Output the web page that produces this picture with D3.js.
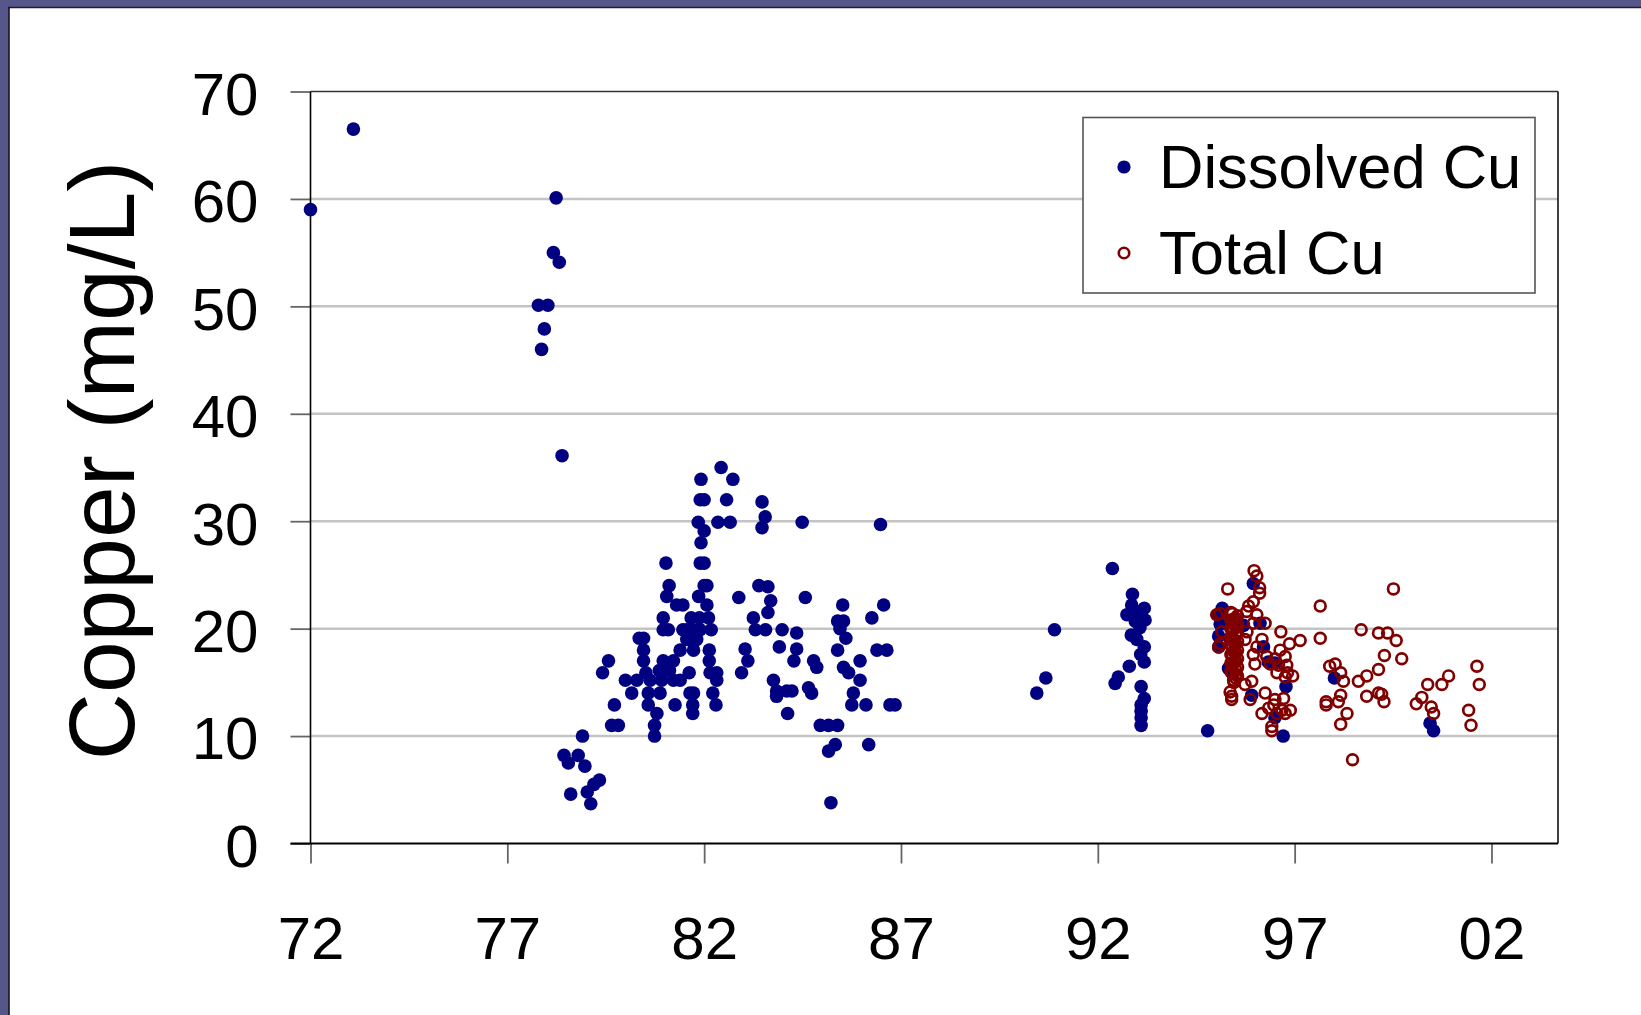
<!DOCTYPE html>
<html><head><meta charset="utf-8">
<script src="https://cdn.jsdelivr.net/npm/d3@7"></script>
<style>html,body{margin:0;padding:0;background:#fff;overflow:hidden}svg{display:block}text{font-family:"Liberation Sans",Arial,Helvetica,sans-serif;fill:#000}</style>
</head><body>
<svg id="c" width="1641" height="1015"></svg>
<script>
// ---- data ----
const yTicks = [0, 10, 20, 30, 40, 50, 60, 70];
const xTicks = [72, 77, 82, 87, 92, 97, 102];
const xTickLabels = ["72", "77", "82", "87", "92", "97", "02"];
const seriesNames = ["Dissolved Cu", "Total Cu"];
const yTitle = "Copper (mg/L)";

const dissolvedYear = [73.09,72.0,78.24,78.17,78.32,77.79,78.03,77.94,77.87,78.39,
82.43,81.92,82.73,81.9,82.0,82.57,83.47,81.85,82.0,82.35,82.66,83.55,83.47,84.49,86.48,81.92,81.9,82.0,81.03,82.0,82.07,81.11,81.05,81.86,82.88,83.39,83.62,84.57,83.69,83.62,82.07,81.46,81.3,85.52,86.56,86.26,80.96,85.39,85.54,83.25,81.67,81.88,82.11,80.96,81.09,81.46,81.56,81.73,81.9,82.18,83.3,83.56,83.98,84.35,85.45,85.6,80.35,80.46,81.56,81.81,80.46,81.39,81.73,82.13,83.04,83.91,84.35,85.39,86.39,86.64,79.57,80.46,80.96,81.22,82.13,83.11,84.28,84.78,85.96,79.42,80.52,80.86,81.12,81.62,82.15,82.32,82.95,84.86,85.54,85.67,80.0,80.29,80.63,80.92,81.22,81.39,82.32,83.76,85.96,80.16,80.58,80.88,81.64,81.73,82.22,83.84,84.1,84.23,83.84,84.65,84.73,85.79,79.72,80.58,81.26,81.71,82.3,85.75,86.11,86.72,86.85,84.12,80.8,81.71,79.65,79.82,80.74,84.95,85.16,85.39,80.74,78.91,85.33,85.16,86.18,78.44,78.8,78.55,78.97,79.34,79.2,79.03,78.61,79.12,85.22,
92.37,90.9,90.68,90.45,92.88,93.18,92.86,92.74,93.03,93.2,92.95,93.07,92.85,92.99,93.18,93.09,93.18,92.8,92.52,92.44,93.1,93.18,93.1,93.1,93.1,93.1,94.79,95.16,95.07,95.11,95.07,95.07,95.95,96.21,95.32,96.78,95.91,96.5,96.71,98.01,100.44,100.53,95.7,96.12,96.33,96.5,95.36];
const dissolvedCu = [66.5,59.0,60.1,55.0,54.1,50.1,50.1,47.9,46.0,36.1,
35.0,33.9,33.9,32.0,32.0,32.0,31.8,29.9,29.1,29.9,29.9,30.4,29.4,29.9,29.7,28.0,26.1,26.1,26.1,24.0,24.0,24.0,23.0,23.0,22.9,24.0,23.9,22.9,22.6,21.5,22.2,22.2,22.2,22.2,22.2,21.0,21.0,20.7,20.7,21.0,21.0,21.0,21.0,19.9,19.9,19.9,19.9,19.9,19.9,19.9,19.9,19.9,19.9,19.6,20.0,19.1,19.1,19.1,19.0,19.0,18.0,18.0,18.0,18.0,18.1,18.3,18.1,18.0,18.0,18.0,17.0,17.0,17.0,17.0,17.0,17.0,17.0,17.0,17.0,15.9,15.9,16.1,16.1,15.9,15.9,15.9,15.9,16.4,16.4,15.9,15.2,15.2,15.2,15.2,15.2,15.2,15.2,15.2,15.2,14.0,14.0,14.0,14.0,14.0,14.0,14.2,14.2,14.2,13.7,14.5,14.0,14.0,12.9,12.9,12.9,12.9,12.9,12.9,12.9,12.9,12.9,12.1,12.1,12.1,11.0,11.0,11.0,11.0,11.0,11.0,10.0,10.0,9.2,8.6,9.2,8.2,8.2,7.5,7.2,5.9,5.5,4.8,4.6,3.7,3.8,
25.6,19.9,15.4,14.0,23.2,21.9,22.2,21.3,21.3,20.8,20.7,20.1,19.4,19.0,18.3,17.6,16.9,16.5,15.5,14.9,14.6,13.5,12.9,12.3,11.7,11.0,10.5,21.9,21.3,20.4,19.3,18.3,24.2,18.3,16.3,14.6,13.8,11.7,10.0,15.4,11.2,10.5,20.3,20.5,16.9,16.8,16.2];

const totalYear = [95.97,96.04,95.3,96.11,96.11,95.95,95.83,95.78,96.04,95.11,95.02,
95.38,95.55,95.38,95.55,95.38,95.55,95.38,95.55,95.38,95.55,95.38,95.55,95.38,95.55,95.38,95.55,95.45,95.45,95.45,
95.42,95.5,95.42,95.5,95.42,95.5,95.42,95.5,95.42,95.5,95.42,95.5,95.42,95.5,95.42,95.5,95.46,95.46,95.46,95.46,
95.15,95.07,95.79,95.74,95.95,96.25,96.17,96.04,96.65,96.87,97.14,96.63,95.95,96.29,96.5,96.76,95.99,96.38,96.59,96.8,96.55,96.82,96.95,96.76,95.91,95.74,95.53,95.36,95.4,95.4,95.87,96.25,96.5,96.72,96.17,96.34,96.47,96.68,96.89,96.55,96.76,96.42,96.42,
97.65,97.65,98.69,99.13,99.36,99.58,99.51,99.28,99.72,97.89,98.03,98.17,98.24,98.62,98.83,99.13,98.17,98.11,97.8,97.8,98.83,99.13,99.21,99.27,98.33,98.17,98.47,100.38,100.74,100.91,100.23,100.09,100.47,100.53,101.63,101.69,101.42,101.48,95.11];
const totalCu = [25.4,24.9,23.7,23.8,23.3,22.5,22.1,21.6,21.3,21.4,21.3,
21.5,21.2,20.8,20.4,20.0,19.6,19.2,18.8,18.4,18.0,17.6,17.2,16.8,16.4,16.0,15.6,15.2,17.9,19.9,
21.4,21.0,20.6,20.2,19.8,19.4,19.0,18.6,18.2,17.8,17.4,17.0,16.6,16.2,15.8,15.4,20.9,18.9,16.9,15.0,
19.7,18.3,19.7,19.0,20.5,20.5,19.0,18.3,19.7,18.6,18.9,18.0,17.6,17.4,17.2,17.4,16.7,16.7,16.6,16.6,15.9,15.9,15.6,15.5,15.1,14.8,15.7,14.1,13.7,13.4,13.4,14.0,13.4,13.5,12.1,12.6,12.9,12.4,12.4,12.1,12.1,10.9,10.5,
22.1,19.1,19.9,19.6,19.6,18.9,23.7,17.5,17.2,16.5,16.7,15.9,15.1,15.1,15.6,16.2,13.8,13.2,13.2,12.9,13.7,14.0,13.9,13.2,12.1,11.1,7.8,14.8,14.8,15.6,13.6,13.0,12.7,12.1,16.5,14.8,12.4,11.0,18.6];

// ---- layout ----
const W = 1641, H = 1015;
const plot = {left: 310.5, right: 1558, top: 91.5, bottom: 843.5};
const svg = d3.select("#c");

// frame
svg.append("rect").attr("x",0).attr("y",0).attr("width",W).attr("height",H).attr("fill","#56568a");
svg.append("rect").attr("x",9).attr("y",8).attr("width",W-9).attr("height",H-8).attr("fill","#ffffff");
svg.append("line").attr("x1",8).attr("x2",W).attr("y1",7.5).attr("y2",7.5).attr("stroke","#1c1c2a").attr("stroke-width",1.5);
svg.append("line").attr("x1",9).attr("x2",9).attr("y1",7).attr("y2",H).attr("stroke","#151520").attr("stroke-width",1.6);

const x = d3.scaleLinear().domain([72, 103.69]).range([plot.left, plot.right]);
const y = d3.scaleLinear().domain([0, 70]).range([plot.bottom, plot.top]);

// gridlines
svg.append("g").selectAll("line").data(yTicks.filter(v => v > 0 && v < 70)).join("line")
  .attr("x1", plot.left).attr("x2", plot.right)
  .attr("y1", d => y(d)).attr("y2", d => y(d))
  .attr("stroke", "#c4c4c4").attr("stroke-width", 2.5);

// plot frame (top & right)
svg.append("line").attr("x1",plot.left).attr("x2",plot.right).attr("y1",y(70)).attr("y2",y(70)).attr("stroke","#333").attr("stroke-width",1.5);
svg.append("line").attr("x1",plot.right).attr("x2",plot.right).attr("y1",plot.top).attr("y2",plot.bottom).attr("stroke","#111").attr("stroke-width",1.6);

// axes
const yAxis = d3.axisLeft(y).tickValues(yTicks).tickSize(20).tickPadding(32).tickFormat(d3.format("d"));
const gy = svg.append("g").attr("transform", `translate(${plot.left},0)`).call(yAxis);
gy.select(".domain").remove();
gy.selectAll(".tick line").attr("stroke","#666").attr("stroke-width",1.8);
gy.selectAll(".tick text").attr("font-size",60).attr("fill","#000").attr("dy","0.38em")
  .attr("font-family",'"Liberation Sans",Arial,sans-serif');

const xAxis = d3.axisBottom(x).tickValues(xTicks).tickSize(20).tickPadding(53)
  .tickFormat((d, i) => xTickLabels[i]);
const gx = svg.append("g").attr("transform", `translate(0,${plot.bottom})`).call(xAxis);
gx.select(".domain").remove();
gx.selectAll(".tick line").attr("stroke","#666").attr("stroke-width",1.8);
gx.selectAll(".tick text").attr("font-size",60).attr("fill","#000")
  .attr("font-family",'"Liberation Sans",Arial,sans-serif');

// axis lines
svg.append("line").attr("x1",plot.left).attr("x2",plot.left).attr("y1",plot.top).attr("y2",plot.bottom).attr("stroke","#000").attr("stroke-width",1.6);
svg.append("line").attr("x1",plot.left-20).attr("x2",plot.right).attr("y1",plot.bottom).attr("y2",plot.bottom).attr("stroke","#000").attr("stroke-width",2);

// y title
svg.append("text").attr("transform", `translate(134,${(plot.top+plot.bottom)/2 - 7}) rotate(-90)`)
  .attr("text-anchor","middle").attr("font-size",93).text(yTitle);

// points
const dis = dissolvedYear.map((d,i) => ({yr:d, v:dissolvedCu[i]}));
const tot = totalYear.map((d,i) => ({yr:d, v:totalCu[i]}));
svg.append("g").selectAll("circle").data(dis).join("circle")
  .attr("cx", d => x(d.yr)).attr("cy", d => y(d.v)).attr("r", 6.8).attr("fill", "#000080");
svg.append("g").selectAll("circle").data(tot).join("circle")
  .attr("cx", d => x(d.yr)).attr("cy", d => y(d.v)).attr("r", 5.4)
  .attr("fill", "none").attr("stroke", "#800000").attr("stroke-width", 2.7);

// legend
const lg = svg.append("g");
lg.append("rect").attr("x",1083).attr("y",117.5).attr("width",452).attr("height",175.5)
  .attr("fill","#fff").attr("stroke","#555").attr("stroke-width",1.6);
lg.append("circle").attr("cx",1124).attr("cy",167).attr("r",6.6).attr("fill","#000080");
lg.append("circle").attr("cx",1124).attr("cy",253).attr("r",5.2).attr("fill","none").attr("stroke","#800000").attr("stroke-width",2.6);
lg.append("text").attr("x",1159).attr("y",188).attr("font-size",61.5).text(seriesNames[0]);
lg.append("text").attr("x",1159).attr("y",274).attr("font-size",61.5).text(seriesNames[1]);
</script>
</body></html>
